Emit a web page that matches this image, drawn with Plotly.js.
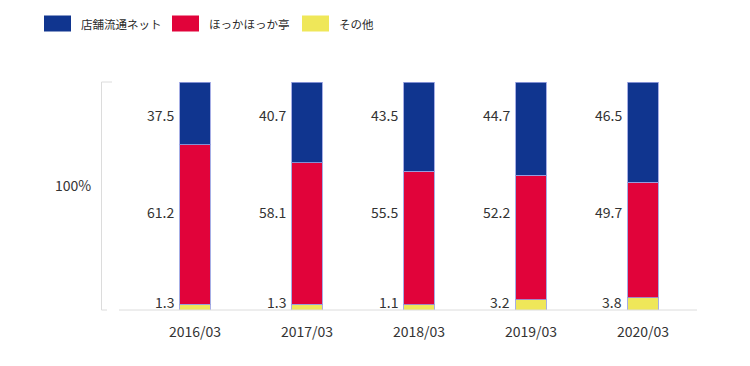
<!DOCTYPE html>
<html>
<head>
<meta charset="utf-8">
<script src="https://cdn.plot.ly/plotly-3.0.1.min.js"></script>
<style>
  html, body { margin: 0; padding: 0; background: #fff; }
  #chart { width: 750px; height: 366px; }
</style>
</head>
<body>
<div id="chart"></div>
<script>
// ---- data ----
const categories = ['2016/03', '2017/03', '2018/03', '2019/03', '2020/03'];
const seriesNames = ['店舗流通ネット', 'ほっかほっか亭', 'その他'];
// value labels printed on the chart
const storeNetLabels = [37.5, 40.7, 43.5, 44.7, 46.5];
const hokkaLabels = [61.2, 58.1, 55.5, 52.2, 49.7];
const otherLabels = [1.3, 1.3, 1.1, 3.2, 3.8];
// segment heights as drawn in the picture (share of 100%)
const storeNetBar = [27.6, 35.4, 39.0, 40.8, 44.0];
const hokkaBar = [69.8, 62.0, 58.6, 54.7, 50.6];
const otherBar = [2.6, 2.6, 2.3, 4.5, 5.4];

// ---- style / layout ----
const colors = ['#10358f', '#e1033a', '#efe759'];
const FONT = '"Noto Sans CJK JP", "Noto Sans", sans-serif';
const L = 139, R = 51, T = 82, B = 56, WIDTH = 750, HEIGHT = 366;
const PW = WIDTH - L - R, PH = HEIGHT - T - B;
const px = x => (x - L) / PW;
const py = y => (HEIGHT - B - y) / PH;
const labelRowY = [85.5, 43, 3.3]; // fixed label rows (blue, red, yellow)

const outline = {color: 'rgba(150,160,225,0.85)', width: 1};
const traces = [
  {type: 'bar', x: categories, y: otherBar, name: seriesNames[2], marker: {color: colors[2], line: outline}},
  {type: 'bar', x: categories, y: hokkaBar, name: seriesNames[1], marker: {color: colors[1], line: outline}},
  {type: 'bar', x: categories, y: storeNetBar, name: seriesNames[0], marker: {color: colors[0], line: outline}}
].map(t => Object.assign(t, {hoverinfo: 'skip', showlegend: false}));

const annotations = [];
[storeNetLabels, hokkaLabels, otherLabels].forEach((arr, si) => {
  arr.forEach((v, i) => {
    annotations.push({
      x: categories[i], y: labelRowY[si], xref: 'x', yref: 'y',
      text: v.toFixed(1), showarrow: false, xanchor: 'right', yanchor: 'middle',
      xshift: -19, font: {family: FONT, size: 14, color: '#333'}
    });
  });
});
annotations.push({
  x: px(93), y: py(185), xref: 'paper', yref: 'paper', text: '100%', showarrow: false,
  xanchor: 'right', yanchor: 'middle', font: {family: FONT, size: 14, color: '#333'}
});

// custom legend
const shapes = [];
const legendSw = [[44, 71], [172, 199], [302, 329]];
seriesNames.forEach((n, i) => {
  shapes.push({type: 'rect', xref: 'paper', yref: 'paper',
    x0: px(legendSw[i][0]), x1: px(legendSw[i][1]), y0: py(31.5), y1: py(15.5),
    fillcolor: colors[i], line: {width: 0}});
  annotations.push({x: px(legendSw[i][1] + 8), y: py(23.5), xref: 'paper', yref: 'paper',
    text: n, showarrow: false, xanchor: 'left', yanchor: 'middle',
    font: {family: FONT, size: 11.5, color: '#2a2a2a'}});
});
// axis bracket & baseline
const gl = {color: '#dcdcdc', width: 1};
shapes.push({type: 'line', xref: 'paper', yref: 'paper', x0: px(101.5), x1: px(101.5), y0: 0, y1: 1, line: gl});
shapes.push({type: 'line', xref: 'paper', yref: 'paper', x0: px(101.5), x1: px(112), y0: 1, y1: 1, line: gl});
shapes.push({type: 'line', xref: 'paper', yref: 'paper', x0: px(101.5), x1: px(107), y0: 0, y1: 0, line: gl});
shapes.push({type: 'line', xref: 'paper', yref: 'paper', x0: px(119), x1: px(697), y0: 0, y1: 0, line: gl});

const layout = {
  width: WIDTH, height: HEIGHT,
  margin: {l: L, r: R, t: T, b: B},
  paper_bgcolor: '#fff', plot_bgcolor: '#fff',
  barmode: 'stack', bargap: 0.73,
  showlegend: false,
  xaxis: {type: 'category', showline: false, showgrid: false, zeroline: false,
    ticks: 'outside', ticklen: 9, tickcolor: 'rgba(0,0,0,0)',
    tickfont: {family: FONT, size: 14, color: '#333'}},
  yaxis: {range: [0, 100], showline: false, showgrid: false, zeroline: false, showticklabels: false, ticks: ''},
  shapes: shapes, annotations: annotations,
  font: {family: FONT}
};
Plotly.newPlot('chart', traces, layout, {displayModeBar: false, staticPlot: true});
</script>
</body>
</html>
